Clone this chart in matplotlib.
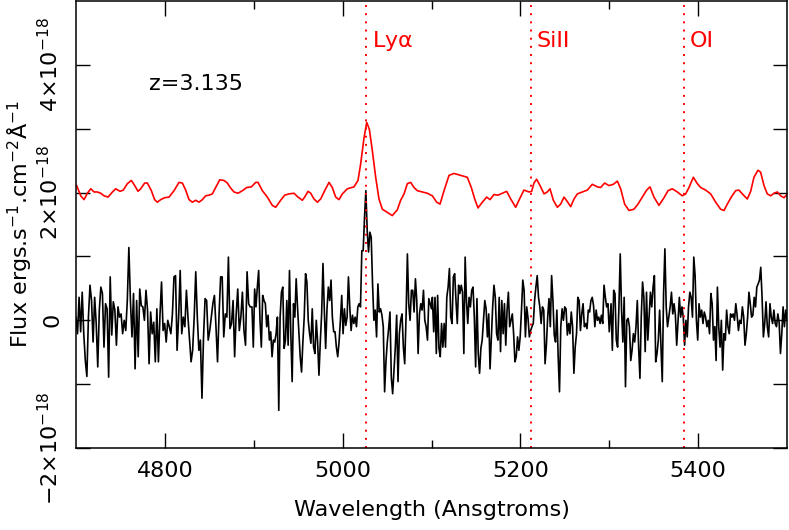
import numpy as np
import matplotlib
matplotlib.use('Agg')
from matplotlib import pyplot as plt
from matplotlib.ticker import FixedLocator, FuncFormatter

plt.rcParams['font.family'] = 'DejaVu Sans'
plt.rcParams['mathtext.fontset'] = 'dejavusans'
plt.rcParams['mathtext.default'] = 'regular'

scale = 1e-18
fs = 16

flux_a = [0.05, -0.21, 0.36, -0.18, 0.44, -0.21, -0.63, -0.88, 0.05, 0.55,
          0.31, -0.34, 0.36, -0.05, -0.73, 0.16, 0.52, 0.42, -0.42, 0.26,
          0.18, -0.89, 0.68, -0.23, 0.29, 0.16, -0.39, 0.21, 0.05, 0.10,
          -0.21, 0.00, -0.16, 0.31, 1.14, 0.31, -0.26, 0.42, -0.76, 0.31,
          -0.57, 0.49, 0.23, 0.21, 0.00, 0.47, 0.16, -0.68, 0.13, -0.21,
          -0.03, -0.65, 0.18, -0.65, 0.08, 0.60, -0.16, -0.05, -0.34, 0.00,
          -0.10, -0.21, 0.10, 0.68, 0.70, -0.47, 0.05, 0.78, -0.21, 0.05,
          -0.10, 0.47, 0.05, -0.31, -0.65, -0.47, 0.05, 0.76, 0.05, -0.47,
          -0.31, -1.22, -0.26, 0.34, 0.31, -0.31, -0.16, 0.05, 0.26, 0.39,
          -0.10, -0.65, 0.10, 0.68, 0.68, -0.26, 0.10, 0.05, 0.99, -0.13,
          -0.05, 0.31, -0.57, 0.10, 0.49, -0.16, 0.05, 0.44, -0.16, -0.39,
          0.76, 0.26, 0.21]
flux_b = [0.21, -0.42, 0.49, 0.21, 0.52, 0.78, 0.00, -0.42, 0.39, 0.31,
          0.26, -0.10, 0.08, -0.31, -0.18, -0.57, -0.31, -0.34, -0.21, 0.05,
          -1.41, 0.05, 0.44, 0.52, -0.44, -0.31, 0.31, -0.39, 0.78, -0.21,
          -0.96, 0.26, 0.05, 0.65, 0.21, -0.18, -0.57, -0.81, -0.34, 0.05,
          0.73, 0.60, 0.00, -0.21, -0.36, 0.18, -0.42, -0.52, 0.00, -0.34,
          -0.86, -0.34, 0.10, 0.89, 0.16, -0.44, 0.18, 0.52, 0.31, 0.63,
          0.05, -0.18, -0.18, -0.42, -0.57, -0.34, 0.00, 0.39, -0.21, 0.18,
          -0.08, 0.05, 0.68, 0.21, -0.16, 0.08, -0.05, 0.05, -0.10, 0.21,
          0.26, 0.21, 1.09, 1.09, 1.61, 2.03, 1.41, 1.07, 1.38, 1.30,
          0.57, 0.00, 0.16, -0.26, 0.57, 0.13, 0.18, 0.08, -0.10, -1.12,
          -0.65, -0.34, -0.13, 0.13, -0.89, -1.15, -0.78, -0.42, 0.08, -0.96,
          -0.21, 0.00, 0.10, -0.42, -0.68, 0.05, 1.04, 0.26, 0.00, 0.47,
          0.47, 0.13, 0.65, 0.31, -0.52, 0.10, 0.26, 0.16, 0.47, 0.00,
          -0.10, -0.31, 0.34, 0.26, 0.18]
flux_c = [0.36, -0.18, 0.36, -0.52, 0.39, -0.44, -0.57, -0.05, -0.42, -0.05,
          -0.42, 0.36, 0.52, 0.81, 0.05, -0.05, 0.68, 0.73, 0.31, -0.05,
          0.55, 0.42, 0.55, 0.44, -0.52, 0.99, 0.31, -0.05, 0.36, 0.21,
          0.47, 0.52, 0.05, -0.73, 0.34, -0.52, -0.83, -0.44, -0.31, 0.00,
          0.31, 0.18, -0.26, 0.10, -0.76, -0.26, 0.21, 0.55, 0.36, -0.21,
          -0.31, 0.36, -0.49, 0.31, -0.21, 0.26, -0.39, 0.16, 0.44, -0.10,
          0.00, 0.10, -0.21, -0.65, -0.57, -0.26, -0.47, -0.26, 0.16, 0.63,
          0.47, -0.26, 0.21, 0.03, -0.26, -0.16, -0.10, -0.05, 0.31, 0.52,
          0.70, 0.36, 0.21, -0.05, 0.21, 0.16, -0.68, -0.39, 0.05, 0.34,
          -0.10, 0.70, 0.31, -0.23, -0.34, 0.16, -0.57, -1.12, -0.10, 0.18,
          0.00, 0.21, 0.18, -0.23, -0.05, -0.21, 0.13, -0.10, -0.83, -0.42,
          -0.21, 0.36, 0.31, -0.16, 0.10, 0.26, -0.10, -0.05, -0.13, 0.16,
          0.13, 0.31, 0.36, 0.23, -0.10, 0.16, 0.00, 0.05, -0.05, 0.08,
          -0.05, 0.55, 0.36, 0.21, 0.26, -0.18]
flux_d = [0.26, -0.47, 0.47, 0.42, -0.31, -0.42, 0.21, 1.04, 0.16, -0.34,
          0.36, -1.04, 0.00, 0.03, -0.10, -0.63, -0.47, -0.21, -0.34, -0.10,
          0.31, -0.42, -0.91, 0.05, 0.60, 0.36, -0.49, 0.44, -0.31, 0.05,
          0.44, 0.21, 0.52, 0.70, -0.65, -0.52, -0.31, 0.16, -0.42, -0.96,
          0.42, 1.12, 0.21, -0.10, 0.05, 0.21, 0.44, 0.10, 0.26, 0.08,
          -0.39, -0.03, 0.36, 0.05, 0.21, 0.05, -0.39, 0.00, -0.26, 0.21,
          0.44, 0.36, 0.05, 0.99, 0.70, 0.00, -0.31, 0.26, 0.05, 0.16,
          -0.05, 0.13, 0.05, -0.10, 0.00, -0.21, 0.42, 0.26, -0.31, -0.10,
          -0.63, 0.52, -0.10, -0.42, 0.00, -0.78, -0.21, -0.31, 0.16, -0.10,
          -0.21, 0.10, 0.05, 0.10, 0.00, 0.26, 0.08, -0.16, 0.00, -0.05,
          0.21, 0.05, -0.39, -0.21, 0.05, 0.44, 0.26, 0.05, 0.08, 0.36,
          0.21, 0.52, 0.57, 0.63, 0.83, 0.36, -0.26, -0.05, 0.29, -0.10,
          -0.26, 0.26, 0.05, -0.05, 0.16, -0.05, -0.10, 0.10, -0.03, -0.52,
          -0.21, 0.21, -0.10, 0.16, 0.00]
spans = [(4700, 4896), (4898, 5100), (5101, 5300), (5302, 5500)]

# smoothed spectrum (already offset), wavelength / flux in units of 1e-18
wave_smooth = [4700.8, 4705.3, 4709.1, 4712.8, 4716.6, 4720.3, 4724.1, 4727.8, 4731.6, 4736.1,
               4741.0, 4744.7, 4749.6, 4753.3, 4757.8, 4762.3, 4766.1, 4769.8, 4772.8, 4777.3,
               4780.3, 4784.8, 4788.5, 4791.5, 4795.3, 4799.8, 4804.7, 4810.3, 4815.9, 4819.7,
               4823.4, 4827.2, 4830.9, 4834.7, 4838.4, 4842.2, 4845.9, 4849.7, 4853.4, 4857.2,
               4861.7, 4866.6, 4870.3, 4874.1, 4877.8, 4882.3, 4887.2, 4892.1, 4897.3, 4902.2,
               4904.8, 4909.7, 4915.3, 4920.9, 4924.7, 4930.3, 4934.8, 4939.7, 4945.3, 4949.8,
               4954.7, 4957.3, 4961.1, 4964.1, 4967.8, 4971.6, 4975.3, 4979.8, 4984.7, 4988.4,
               4992.2, 4995.9, 4999.7, 5005.3, 5012.8, 5017.3, 5020.3, 5024.1, 5027.1, 5030.1,
               5033.4, 5037.2, 5040.9, 5044.7, 5050.3, 5055.9, 5061.5, 5065.3, 5069.1, 5072.8,
               5076.6, 5080.3, 5084.1, 5089.7, 5095.3, 5100.9, 5105.8, 5109.6, 5114.1, 5119.7,
               5125.3, 5132.8, 5140.3, 5144.8, 5148.6, 5152.3, 5157.2, 5162.1, 5165.8, 5170.3,
               5174.8, 5179.7, 5184.6, 5189.1, 5194.7, 5198.4, 5204.0, 5209.7, 5212.7, 5215.3,
               5218.3, 5222.1, 5226.6, 5230.3, 5233.3, 5237.1, 5241.6, 5245.3, 5249.1, 5252.8,
               5256.6, 5260.3, 5264.1, 5269.7, 5275.3, 5280.9, 5286.6, 5290.3, 5294.8, 5299.7,
               5304.6, 5309.1, 5312.8, 5317.3, 5322.2, 5327.8, 5332.3, 5337.2, 5342.1, 5345.8,
               5350.3, 5355.9, 5361.6, 5366.1, 5370.9, 5376.6, 5382.2, 5385.9, 5389.7, 5394.6,
               5399.1, 5402.8, 5408.4, 5414.1, 5419.7, 5425.3, 5429.1, 5432.8, 5437.3, 5442.2,
               5445.9, 5449.7, 5455.3, 5459.1, 5462.8, 5467.3, 5470.3, 5474.1, 5477.8, 5481.6,
               5485.3, 5489.1, 5492.8, 5496.6, 5501.4]
flux_smooth = [2.11, 1.95, 1.89, 1.99, 2.06, 2.01, 2.01, 1.99, 1.95, 1.93,
               2.01, 2.06, 2.02, 2.04, 2.14, 2.19, 2.11, 2.02, 2.06, 2.15,
               2.15, 2.03, 1.89, 1.85, 1.89, 1.92, 1.93, 2.03, 2.16, 2.15,
               2.04, 1.89, 1.85, 1.88, 1.85, 1.89, 1.95, 1.96, 1.98, 2.08,
               2.20, 2.19, 2.15, 2.07, 2.01, 1.99, 2.03, 2.08, 2.09, 2.16,
               2.16, 2.03, 1.93, 1.80, 1.77, 1.88, 1.96, 1.98, 1.99, 1.93,
               1.88, 1.93, 2.02, 1.99, 1.90, 1.85, 1.90, 2.03, 2.16, 2.08,
               1.93, 1.89, 1.98, 2.06, 2.09, 2.19, 2.45, 2.86, 3.10, 2.99,
               2.66, 2.24, 1.90, 1.74, 1.69, 1.64, 1.73, 1.88, 1.98, 2.14,
               2.16, 2.08, 2.03, 2.01, 1.99, 1.95, 1.85, 1.82, 2.03, 2.27,
               2.30, 2.27, 2.24, 2.08, 1.90, 1.76, 1.85, 1.93, 1.89, 1.97,
               1.96, 1.99, 2.02, 1.90, 1.77, 1.88, 2.04, 2.01, 2.02, 2.15,
               2.21, 2.11, 1.98, 2.01, 2.06, 1.88, 1.77, 1.82, 1.93, 1.86,
               1.78, 1.90, 1.98, 2.01, 2.04, 2.13, 2.09, 2.08, 2.15, 2.11,
               2.13, 2.18, 2.06, 1.82, 1.72, 1.74, 1.82, 1.93, 2.04, 2.09,
               1.93, 1.80, 1.92, 2.03, 2.06, 2.01, 1.95, 1.98, 2.08, 2.24,
               2.14, 2.08, 2.04, 1.98, 1.85, 1.74, 1.72, 1.82, 1.93, 2.03,
               2.04, 1.98, 1.90, 2.02, 2.24, 2.35, 2.32, 2.11, 1.98, 1.95,
               1.99, 2.01, 1.95, 1.92, 1.99]

z = 3.135
line_names = ['Ly$\\alpha$', 'SiII', 'OI']
line_rest = [1215.67, 1260.42, 1302.17]

wave = np.concatenate([np.linspace(a, b, len(f)) for (a, b), f in
                       zip(spans, [flux_a, flux_b, flux_c, flux_d])])
flux = np.concatenate([flux_a, flux_b, flux_c, flux_d]) * scale

fig = plt.figure(figsize=(7.89, 5.30), dpi=100)
ax = fig.add_axes([0.0963, 0.1547, 0.9012, 0.8433])

ax.plot(wave, flux, color='black', lw=1.2)
ax.plot(wave_smooth, np.array(flux_smooth) * scale, color='red', lw=1.2)

for name, rest in zip(line_names, line_rest):
    obs = rest * (1 + z)
    ax.axvline(obs, color='red', ls=(0, (1, 3.2)), lw=1.4)
    ax.text(obs + 6, 4.38 * scale, name, color='red', fontsize=fs,
            ha='left', va='center')

ax.text(4782, 3.70 * scale, 'z=3.135', fontsize=fs, ha='left', va='center')

ax.set_xlim(4700, 5500)
ax.set_ylim(-2 * scale, 5 * scale)
ax.xaxis.set_major_locator(FixedLocator([4800, 5000, 5200, 5400]))
ax.xaxis.set_minor_locator(FixedLocator([4900, 5100, 5300]))
ax.yaxis.set_major_locator(FixedLocator([-2 * scale, 0, 2 * scale, 4 * scale]))
ax.yaxis.set_minor_locator(FixedLocator([-1 * scale, 1 * scale, 3 * scale]))


def ylab(v, pos):
    n = int(round(v / scale))
    if n == 0:
        return '0'
    return '%s×10$^{-18}$' % ('\u2212%d' % -n if n < 0 else '%d' % n)


ax.yaxis.set_major_formatter(FuncFormatter(ylab))
ax.tick_params(which='both', direction='in', top=True, right=True,
               labelsize=fs, width=1.0)
ax.tick_params(axis='x', which='major', length=11, pad=9)
ax.tick_params(axis='x', which='minor', length=6)
ax.tick_params(axis='y', which='both', length=10, pad=10)
for lab in ax.get_yticklabels():
    lab.set_rotation(90)
    lab.set_va('center')
for s in ax.spines.values():
    s.set_linewidth(1.1)

ax.set_xlabel('Wavelength (Ansgtroms)', fontsize=fs, labelpad=14)
ax.set_ylabel('Flux ergs.s$^{-1}$.cm$^{-2}$Å$^{-1}$', fontsize=fs, labelpad=2)

fig.savefig('out.png', dpi=100)
